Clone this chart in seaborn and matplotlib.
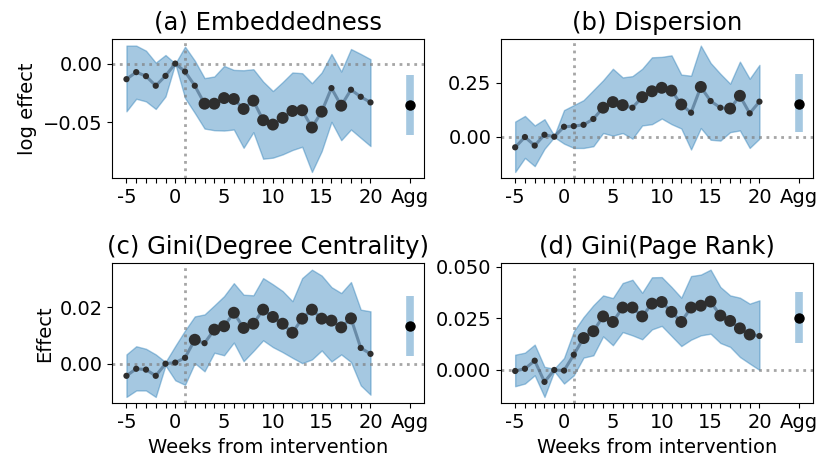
import matplotlib
matplotlib.use("Agg")
import matplotlib.pyplot as plt
import numpy as np
import pandas as pd
import seaborn as sns

# ---------------- data ----------------
weeks = list(range(-5, 21))
agg_x = 24
tick_positions = weeks + [agg_x]
tick_labels = [str(w) if w % 5 == 0 else "" for w in weeks] + ["Agg"]

# (a) Embeddedness
a_mean = [-0.0133, -0.0073, -0.0107, -0.0189, -0.0105, 0.0, -0.0068, -0.0189, -0.0342, -0.0342,
          -0.0294, -0.0302, -0.0387, -0.0316, -0.0483, -0.0520, -0.0463, -0.0404, -0.0398, -0.0545,
          -0.0410, -0.0209, -0.0359, -0.0223, -0.0283, -0.0331]
a_hi = [0.0153, 0.0153, 0.0110, 0.0008, 0.0073, 0.0, 0.0144, 0.0025, -0.0124, -0.0110,
        -0.0020, -0.0054, -0.0057, -0.0048, -0.0153, -0.0234, -0.0158, -0.0076, -0.0082, -0.0167,
        -0.0076, 0.0082, -0.0068, 0.0124, 0.0082, 0.0037]
a_lo = [-0.0407, -0.0300, -0.0322, -0.0387, -0.0280, 0.0, -0.0294, -0.0421, -0.0554, -0.0568,
        -0.0571, -0.0562, -0.0718, -0.0585, -0.0811, -0.0802, -0.0774, -0.0737, -0.0709, -0.0924,
        -0.0746, -0.0497, -0.0653, -0.0562, -0.0633, -0.0703]
a_weight = [1, 1, 1, 1, 1, 1, 1, 1, 3, 3, 3, 3, 3, 3, 3, 3, 3, 3, 3, 3, 3, 1, 3, 1, 1, 1]
a_agg = [-0.0353, -0.0613, -0.0096]

# (b) Dispersion
b_mean = [-0.049, -0.0015, -0.041, 0.009, 0.0, 0.046, 0.049, 0.055, 0.082, 0.134,
          0.160, 0.146, 0.134, 0.183, 0.210, 0.226, 0.213, 0.149, 0.111, 0.230,
          0.165, 0.134, 0.130, 0.189, 0.108, 0.162]
b_hi = [0.070, 0.096, 0.052, 0.081, 0.005, 0.123, 0.146, 0.169, 0.215, 0.261,
        0.314, 0.274, 0.280, 0.314, 0.367, 0.369, 0.376, 0.287, 0.282, 0.421,
        0.341, 0.291, 0.245, 0.347, 0.268, 0.332]
b_lo = [-0.163, -0.098, -0.136, -0.056, -0.002, -0.032, -0.052, -0.052, -0.044, 0.017,
        0.005, 0.017, -0.009, 0.052, 0.058, 0.084, 0.058, 0.038, -0.059, 0.040,
        -0.014, -0.018, 0.021, 0.029, -0.052, -0.009]
b_weight = [1, 1, 1, 1, 1, 1, 1, 1, 1, 3, 3, 3, 1, 3, 3, 3, 3, 3, 1, 3, 1, 1, 3, 3, 1, 1]
b_agg = [0.152, 0.020, 0.288]

# (c) Gini(Degree Centrality)
c_mean = [-0.0043, -0.0018, -0.0021, -0.0043, 0.0, 0.0004, 0.0021, 0.0085, 0.0073, 0.0121,
          0.0133, 0.0181, 0.0127, 0.0142, 0.0192, 0.0166, 0.0142, 0.0110, 0.0160, 0.0192,
          0.0160, 0.0153, 0.0129, 0.0161, 0.0056, 0.0035]
c_hi = [0.0033, 0.0062, 0.0053, 0.0033, 0.0006, 0.0063, 0.0118, 0.0168, 0.0175, 0.0207,
        0.0240, 0.0286, 0.0245, 0.0243, 0.0304, 0.0282, 0.0258, 0.0222, 0.0304, 0.0334,
        0.0313, 0.0272, 0.0251, 0.0290, 0.0192, 0.0186]
c_lo = [-0.0118, -0.0095, -0.0095, -0.0118, -0.0006, -0.0059, -0.0075, 0.0002, -0.0027, 0.0039,
        0.0030, 0.0075, 0.0009, 0.0045, 0.0083, 0.0059, 0.0041, 0.0021, 0.0002, 0.0015,
        0.0047, 0.0008, 0.0033, 0.0006, -0.0077, -0.0110]
c_weight = [1, 1, 1, 1, 1, 1, 1, 3, 1, 3, 3, 3, 3, 3, 3, 3, 3, 3, 3, 3, 3, 3, 3, 3, 1, 1]
c_agg = [0.0133, 0.0027, 0.0239]

# (d) Gini(Page Rank)
d_mean = [-0.0005, 0.0006, 0.0045, -0.0058, 0.0, -0.0003, 0.0074, 0.0155, 0.0188, 0.0260,
          0.0233, 0.0303, 0.0303, 0.0260, 0.0322, 0.0330, 0.0282, 0.0233, 0.0303, 0.0312,
          0.0332, 0.0264, 0.0238, 0.0202, 0.0172, 0.0165]
d_hi = [0.0074, 0.0084, 0.0123, 0.0015, 0.0006, 0.0058, 0.0188, 0.0257, 0.0314, 0.0362,
        0.0349, 0.0422, 0.0438, 0.0375, 0.0450, 0.0451, 0.0403, 0.0351, 0.0456, 0.0463,
        0.0487, 0.0403, 0.0362, 0.0351, 0.0322, 0.0338]
d_lo = [-0.0079, -0.0066, -0.0026, -0.0131, -0.0006, -0.0066, -0.0026, 0.0060, 0.0071, 0.0163,
        0.0120, 0.0184, 0.0168, 0.0149, 0.0197, 0.0214, 0.0165, 0.0116, 0.0147, 0.0168,
        0.0176, 0.0131, 0.0112, 0.0063, 0.0031, 0.0]
d_weight = [1, 1, 1, 1, 1, 1, 1, 3, 3, 3, 3, 3, 3, 3, 3, 3, 3, 3, 3, 3, 3, 3, 3, 3, 3, 1]
d_agg = [0.0254, 0.0133, 0.0377]

titles = ["(a) Embeddedness", "(b) Dispersion", "(c) Gini(Degree Centrality)", "(d) Gini(Page Rank)"]
yticks_list = [[-0.05, 0.0], [0.0, 0.25], [0.0, 0.02], [0.0, 0.025, 0.05]]

# ---------------- style ----------------
sns.set_style("ticks", rc={
    "axes.edgecolor": "black", "axes.labelcolor": "black", "text.color": "black",
    "xtick.color": "black", "ytick.color": "black", "axes.linewidth": 1.1,
    "xtick.major.size": 4.2, "ytick.major.size": 4.2,
    "xtick.major.width": 1.1, "ytick.major.width": 1.1,
})
plt.rcParams["font.family"] = ["DejaVu Sans"]
plt.rcParams["axes.unicode_minus"] = True

fig = plt.figure(figsize=(8.3, 4.72), dpi=100)
W, H = 830.0, 472.0
boxes = [
    (112.3, 39.3, 423.7, 178.3),
    (501.0, 39.3, 812.7, 178.3),
    (112.3, 263.3, 423.7, 403.3),
    (501.0, 263.3, 812.7, 403.3),
]

panels = [
    (a_mean, a_lo, a_hi, a_weight, a_agg),
    (b_mean, b_lo, b_hi, b_weight, b_agg),
    (c_mean, c_lo, c_hi, c_weight, c_agg),
    (d_mean, d_lo, d_hi, d_weight, d_agg),
]

for i, ((mean, lo, hi, wt, agg), (x0, y0, x1, y1)) in enumerate(zip(panels, boxes)):
    ax = fig.add_axes([x0 / W, 1 - y1 / H, (x1 - x0) / W, (y1 - y0) / H])
    df = pd.DataFrame({"week": weeks, "effect": mean, "weight": wt})
    ax.fill_between(weeks, lo, hi, color="C0", alpha=0.4, lw=1.0, zorder=1)
    ax.axhline(0, color="gray", ls=":", lw=2.0, alpha=0.7, zorder=2)
    ax.axvline(1, color="gray", ls=":", lw=2.0, alpha=0.7, zorder=2)
    sns.lineplot(data=df, x="week", y="effect", color="#2f4f6f", alpha=0.5, lw=2.2,
                 ax=ax, zorder=3)
    sns.scatterplot(data=df, x="week", y="effect", size="weight", sizes=(20, 74),
                    size_norm=(1, 3), color="#2e2e2e", edgecolor="none", linewidth=0,
                    legend=False, ax=ax, zorder=4)
    ax.vlines(agg_x, agg[1], agg[2], color="C0", alpha=0.4, lw=5.5, zorder=3)
    ax.plot([agg_x], [agg[0]], "o", color="black", ms=6.5, zorder=5)

    ax.set_xticks(tick_positions, tick_labels)
    ax.set_yticks(yticks_list[i])
    ax.tick_params(labelsize=14)
    ax.set_title(titles[i], fontsize=17.5, pad=7)
    ax.set_xlabel("Weeks from intervention" if i >= 2 else "", fontsize=14)
    ax.set_ylabel({0: "log effect", 2: "Effect"}.get(i, ""), fontsize=14)
    for s in ax.spines.values():
        s.set_visible(True)

fig.savefig("out.png", dpi=100)
